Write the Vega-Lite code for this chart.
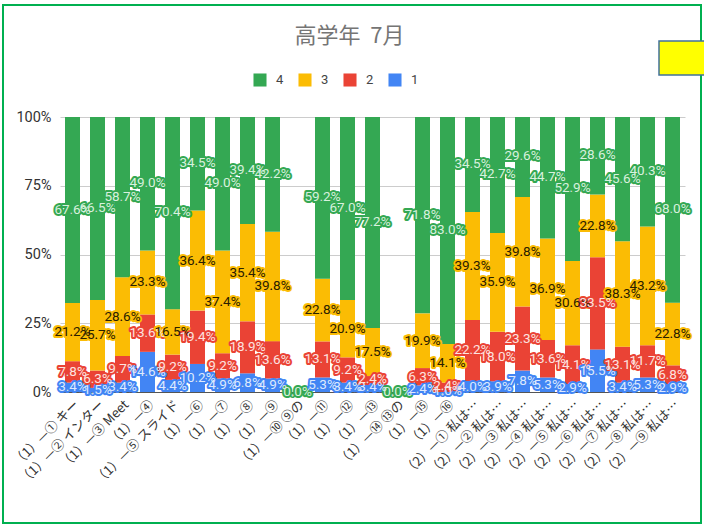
{
  "$schema": "https://vega.github.io/schema/vega-lite/v6.json",
  "width": 625,
  "height": 275,
  "autosize": {"type": "none"},
  "padding": {"left": 60, "top": 117, "right": 19, "bottom": 136},
  "background": "white",
  "config": {"font": "Roboto", "view": {"stroke": null}},
  "title": {"text": "高学年\u00a0\u00a07月", "font": "Noto Sans CJK JP", "fontSize": 22, "fontWeight": "normal", "color": "#757575", "anchor": "middle", "frame": "group", "dx": -23, "offset": -61, "baseline": "alphabetic"},
  "datasets": {
    "d": [
      {"c": "（1）—① キー", "s": "1", "v": 0.034}, {"c": "（1）—① キー", "s": "2", "v": 0.078}, {"c": "（1）—① キー", "s": "3", "v": 0.212}, {"c": "（1）—① キー", "s": "4", "v": 0.676},
      {"c": "（1）—② インター", "s": "1", "v": 0.015}, {"c": "（1）—② インター", "s": "2", "v": 0.063}, {"c": "（1）—② インター", "s": "3", "v": 0.257}, {"c": "（1）—② インター", "s": "4", "v": 0.665},
      {"c": "（1）—③ Meet", "s": "1", "v": 0.034}, {"c": "（1）—③ Meet", "s": "2", "v": 0.097}, {"c": "（1）—③ Meet", "s": "3", "v": 0.286}, {"c": "（1）—③ Meet", "s": "4", "v": 0.587},
      {"c": "（1）—④", "s": "1", "v": 0.146}, {"c": "（1）—④", "s": "2", "v": 0.136}, {"c": "（1）—④", "s": "3", "v": 0.233}, {"c": "（1）—④", "s": "4", "v": 0.490},
      {"c": "（1）—⑤ スライド", "s": "1", "v": 0.044}, {"c": "（1）—⑤ スライド", "s": "2", "v": 0.092}, {"c": "（1）—⑤ スライド", "s": "3", "v": 0.165}, {"c": "（1）—⑤ スライド", "s": "4", "v": 0.704},
      {"c": "（1）—⑥", "s": "1", "v": 0.102}, {"c": "（1）—⑥", "s": "2", "v": 0.194}, {"c": "（1）—⑥", "s": "3", "v": 0.364}, {"c": "（1）—⑥", "s": "4", "v": 0.345},
      {"c": "（1）—⑦", "s": "1", "v": 0.049}, {"c": "（1）—⑦", "s": "2", "v": 0.092}, {"c": "（1）—⑦", "s": "3", "v": 0.374}, {"c": "（1）—⑦", "s": "4", "v": 0.490},
      {"c": "（1）—⑧", "s": "1", "v": 0.068}, {"c": "（1）—⑧", "s": "2", "v": 0.189}, {"c": "（1）—⑧", "s": "3", "v": 0.354}, {"c": "（1）—⑧", "s": "4", "v": 0.394},
      {"c": "（1）—⑨", "s": "1", "v": 0.049}, {"c": "（1）—⑨", "s": "2", "v": 0.136}, {"c": "（1）—⑨", "s": "3", "v": 0.398}, {"c": "（1）—⑨", "s": "4", "v": 0.422},
      {"c": "（1）—⑩ ⑨の", "s": "1", "v": 0}, {"c": "（1）—⑩ ⑨の", "s": "2", "v": 0}, {"c": "（1）—⑩ ⑨の", "s": "3", "v": 0}, {"c": "（1）—⑩ ⑨の", "s": "4", "v": 0},
      {"c": "（1）—⑪", "s": "1", "v": 0.053}, {"c": "（1）—⑪", "s": "2", "v": 0.131}, {"c": "（1）—⑪", "s": "3", "v": 0.228}, {"c": "（1）—⑪", "s": "4", "v": 0.592},
      {"c": "（1）—⑫", "s": "1", "v": 0.034}, {"c": "（1）—⑫", "s": "2", "v": 0.092}, {"c": "（1）—⑫", "s": "3", "v": 0.209}, {"c": "（1）—⑫", "s": "4", "v": 0.670},
      {"c": "（1）—⑬", "s": "1", "v": 0.034}, {"c": "（1）—⑬", "s": "2", "v": 0.024}, {"c": "（1）—⑬", "s": "3", "v": 0.175}, {"c": "（1）—⑬", "s": "4", "v": 0.772},
      {"c": "（1）—⑭ ⑬の", "s": "1", "v": 0}, {"c": "（1）—⑭ ⑬の", "s": "2", "v": 0}, {"c": "（1）—⑭ ⑬の", "s": "3", "v": 0}, {"c": "（1）—⑭ ⑬の", "s": "4", "v": 0},
      {"c": "（1）—⑮", "s": "1", "v": 0.024}, {"c": "（1）—⑮", "s": "2", "v": 0.063}, {"c": "（1）—⑮", "s": "3", "v": 0.199}, {"c": "（1）—⑮", "s": "4", "v": 0.718},
      {"c": "（1）—⑯", "s": "1", "v": 0.010}, {"c": "（1）—⑯", "s": "2", "v": 0.024}, {"c": "（1）—⑯", "s": "3", "v": 0.141}, {"c": "（1）—⑯", "s": "4", "v": 0.830},
      {"c": "（2）—① 私は…", "s": "1", "v": 0.040}, {"c": "（2）—① 私は…", "s": "2", "v": 0.222}, {"c": "（2）—① 私は…", "s": "3", "v": 0.393}, {"c": "（2）—① 私は…", "s": "4", "v": 0.345},
      {"c": "（2）—② 私は…", "s": "1", "v": 0.039}, {"c": "（2）—② 私は…", "s": "2", "v": 0.180}, {"c": "（2）—② 私は…", "s": "3", "v": 0.359}, {"c": "（2）—② 私は…", "s": "4", "v": 0.427},
      {"c": "（2）—③ 私は…", "s": "1", "v": 0.078}, {"c": "（2）—③ 私は…", "s": "2", "v": 0.233}, {"c": "（2）—③ 私は…", "s": "3", "v": 0.398}, {"c": "（2）—③ 私は…", "s": "4", "v": 0.296},
      {"c": "（2）—④ 私は…", "s": "1", "v": 0.053}, {"c": "（2）—④ 私は…", "s": "2", "v": 0.136}, {"c": "（2）—④ 私は…", "s": "3", "v": 0.369}, {"c": "（2）—④ 私は…", "s": "4", "v": 0.447},
      {"c": "（2）—⑤ 私は…", "s": "1", "v": 0.029}, {"c": "（2）—⑤ 私は…", "s": "2", "v": 0.141}, {"c": "（2）—⑤ 私は…", "s": "3", "v": 0.306}, {"c": "（2）—⑤ 私は…", "s": "4", "v": 0.529},
      {"c": "（2）—⑥ 私は…", "s": "1", "v": 0.155}, {"c": "（2）—⑥ 私は…", "s": "2", "v": 0.335}, {"c": "（2）—⑥ 私は…", "s": "3", "v": 0.228}, {"c": "（2）—⑥ 私は…", "s": "4", "v": 0.286},
      {"c": "（2）—⑦ 私は…", "s": "1", "v": 0.034}, {"c": "（2）—⑦ 私は…", "s": "2", "v": 0.131}, {"c": "（2）—⑦ 私は…", "s": "3", "v": 0.383}, {"c": "（2）—⑦ 私は…", "s": "4", "v": 0.456},
      {"c": "（2）—⑧ 私は…", "s": "1", "v": 0.053}, {"c": "（2）—⑧ 私は…", "s": "2", "v": 0.117}, {"c": "（2）—⑧ 私は…", "s": "3", "v": 0.432}, {"c": "（2）—⑧ 私は…", "s": "4", "v": 0.403},
      {"c": "（2）—⑨ 私は…", "s": "1", "v": 0.029}, {"c": "（2）—⑨ 私は…", "s": "2", "v": 0.068}, {"c": "（2）—⑨ 私は…", "s": "3", "v": 0.228}, {"c": "（2）—⑨ 私は…", "s": "4", "v": 0.680}
    ]
  },
  "layer": [
    {
      "data": {"name": "d"},
      "mark": {"type": "bar", "clip": true},
      "encoding": {
        "x": {"field": "c", "type": "nominal", "sort": null,
          "scale": {"paddingInner": 0.4, "paddingOuter": 0.2},
          "axis": {"title": null, "labelAngle": -45, "labelFont": "Noto Sans CJK JP", "labelFontSize": 13, "labelColor": "#333", "ticks": false, "domain": true, "domainColor": "#555", "labelPadding": 6, "labelLimit": 200}},
        "y": {"field": "v", "type": "quantitative", "stack": "zero",
          "scale": {"domain": [0, 1], "nice": false},
          "axis": {"title": null, "format": "%", "values": [0, 0.25, 0.5, 0.75, 1], "grid": true, "gridColor": "#cccccc", "domain": false, "ticks": false, "labelFontSize": 14.5, "labelColor": "#333", "labelPadding": 9}},
        "color": {"field": "s", "type": "nominal",
          "scale": {"domain": ["4", "3", "2", "1"], "range": ["#34a853", "#fbbc04", "#ea4335", "#4285f4"]},
          "legend": {"title": null, "orient": "none", "legendX": 193, "legendY": -44, "direction": "horizontal", "symbolType": "square", "symbolSize": 170, "symbolStrokeWidth": 0, "symbolOpacity": 1, "labelFontSize": 13, "labelColor": "#444", "columnPadding": 14, "labelOffset": 9}},
        "order": {"field": "s", "sort": "ascending"}
      }
    },
    {
      "data": {"name": "d"},
      "transform": [
        {"filter": "datum.v > 0 || datum.s == '4'"},
        {"stack": "v", "groupby": ["c"], "sort": [{"field": "s", "order": "ascending"}], "as": ["y0", "y1"]},
        {"fold": ["y0", "y1"], "as": ["k", "pos"]},
        {"aggregate": [{"op": "mean", "field": "pos", "as": "mid"}], "groupby": ["c", "s", "v"]}
      ],
      "mark": {"type": "text", "font": "Roboto", "fontSize": 13.5, "strokeWidth": 4, "strokeJoin": "round", "baseline": "middle", "align": "center"},
      "encoding": {
        "x": {"field": "c", "type": "nominal", "sort": null},
        "y": {"field": "mid", "type": "quantitative"},
        "text": {"field": "v", "type": "quantitative", "format": ".1%"},
        "stroke": {"field": "s", "type": "nominal", "scale": {"domain": ["4", "3", "2", "1"], "range": ["#34a853", "#fbbc04", "#ea4335", "#4285f4"]}, "legend": null}
      }
    },
    {
      "data": {"name": "d"},
      "transform": [
        {"filter": "datum.v > 0 || datum.s == '4'"},
        {"stack": "v", "groupby": ["c"], "sort": [{"field": "s", "order": "ascending"}], "as": ["y0", "y1"]},
        {"fold": ["y0", "y1"], "as": ["k", "pos"]},
        {"aggregate": [{"op": "mean", "field": "pos", "as": "mid"}], "groupby": ["c", "s", "v"]}
      ],
      "mark": {"type": "text", "font": "Roboto", "fontSize": 13.5, "baseline": "middle", "align": "center"},
      "encoding": {
        "x": {"field": "c", "type": "nominal", "sort": null},
        "y": {"field": "mid", "type": "quantitative"},
        "text": {"field": "v", "type": "quantitative", "format": ".1%"},
        "fill": {"field": "s", "type": "nominal", "scale": {"domain": ["4", "3", "2", "1"], "range": ["#d8f1de", "#2a2000", "#fde3e0", "#dde9fd"]}, "legend": null}
      }
    },
    {
      "data": {"values": [{}]},
      "mark": {"type": "rect", "fill": null, "stroke": "#00b050", "strokeWidth": 2, "clip": false},
      "encoding": {"x": {"value": -57}, "x2": {"value": 641}, "y": {"value": -112}, "y2": {"value": 406}}
    },
    {
      "data": {"values": [{}]},
      "mark": {"type": "rect", "fill": "#ffff00", "stroke": "#41719c", "strokeWidth": 1.5, "clip": false},
      "encoding": {"x": {"value": 599}, "x2": {"value": 648}, "y": {"value": -76}, "y2": {"value": -42}}
    }
  ]
}
